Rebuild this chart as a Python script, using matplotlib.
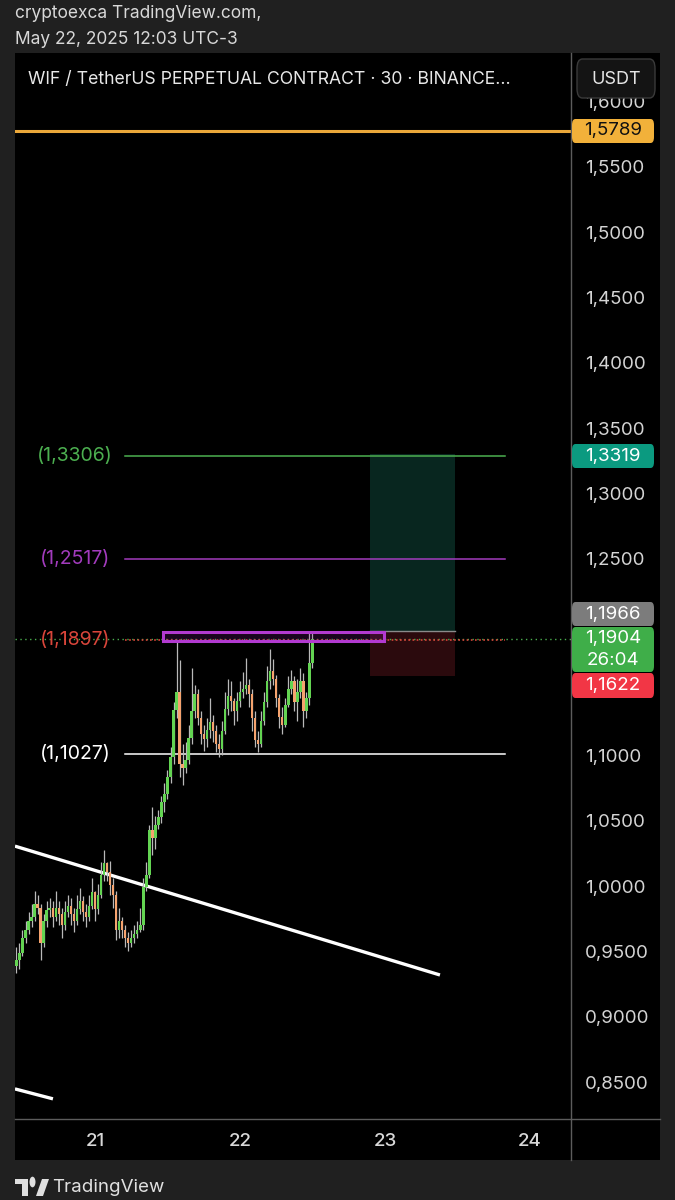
import matplotlib
matplotlib.use("Agg")
import matplotlib.pyplot as plt
from matplotlib.patches import Rectangle, FancyBboxPatch, Polygon, Circle
from matplotlib.lines import Line2D

plt.rcParams['font.family'] = ['Inter', 'DejaVu Sans']

# ---------------- data ----------------
start_day = 20.4583          # first 30-min candle (day of month)
candle_step = 1 / 48         # 30 minutes
first_open = 0.940
closes = [0.945, 0.950, 0.962, 0.968, 0.975, 0.978, 0.988, 0.985, 0.958, 0.975,
          0.983, 0.985, 0.978, 0.985, 0.980, 0.972, 0.982, 0.986, 0.980, 0.975,
          0.984, 0.990, 0.982, 0.978, 0.986, 0.997, 0.984, 0.995, 1.010, 1.019,
          1.012, 1.002, 0.995, 0.968, 0.975, 0.968, 0.962, 0.958, 0.962, 0.965,
          0.968, 0.972, 1.001, 1.010, 1.044, 1.038, 1.048, 1.054, 1.066, 1.072,
          1.085, 1.100, 1.136, 1.150, 1.095, 1.092, 1.098, 1.115, 1.135, 1.148,
          1.130, 1.118, 1.114, 1.121, 1.127, 1.120, 1.110, 1.106, 1.120, 1.137,
          1.147, 1.143, 1.135, 1.143, 1.150, 1.152, 1.155, 1.148, 1.130, 1.113,
          1.110, 1.128, 1.142, 1.158, 1.166, 1.160, 1.145, 1.131, 1.125, 1.140,
          1.152, 1.158, 1.142, 1.150, 1.158, 1.135, 1.145, 1.172, 1.1904]
highs = [0.955, 0.958, 0.968, 0.975, 0.982, 0.988, 0.998, 0.995, 0.988, 0.980,
         0.990, 0.992, 0.990, 0.998, 0.990, 0.985, 0.990, 0.995, 0.992, 0.985,
         0.995, 1.000, 0.994, 0.988, 0.995, 1.008, 0.998, 1.003, 1.020, 1.029,
         1.020, 1.021, 1.008, 0.998, 0.985, 0.978, 0.972, 0.966, 0.968, 0.972,
         0.975, 0.985, 1.008, 1.020, 1.048, 1.062, 1.055, 1.060, 1.070, 1.080,
         1.090, 1.108, 1.142, 1.188, 1.174, 1.110, 1.112, 1.125, 1.168, 1.155,
         1.152, 1.135, 1.125, 1.130, 1.145, 1.132, 1.125, 1.118, 1.128, 1.150,
         1.160, 1.158, 1.145, 1.150, 1.158, 1.165, 1.176, 1.160, 1.152, 1.135,
         1.120, 1.135, 1.150, 1.170, 1.183, 1.175, 1.163, 1.148, 1.138, 1.145,
         1.162, 1.167, 1.162, 1.160, 1.168, 1.164, 1.150, 1.1966, 1.195]
lows = [0.935, 0.938, 0.948, 0.958, 0.965, 0.970, 0.975, 0.980, 0.945, 0.955,
        0.970, 0.978, 0.970, 0.975, 0.972, 0.962, 0.968, 0.978, 0.972, 0.966,
        0.972, 0.980, 0.975, 0.970, 0.975, 0.984, 0.975, 0.980, 0.992, 1.005,
        1.005, 0.995, 0.985, 0.960, 0.962, 0.962, 0.955, 0.952, 0.955, 0.958,
        0.962, 0.966, 0.968, 0.998, 1.008, 1.025, 1.030, 1.045, 1.050, 1.058,
        1.068, 1.080, 1.095, 1.130, 1.085, 1.079, 1.088, 1.095, 1.110, 1.130,
        1.125, 1.110, 1.105, 1.108, 1.115, 1.112, 1.104, 1.100, 1.102, 1.118,
        1.132, 1.135, 1.125, 1.128, 1.138, 1.145, 1.148, 1.138, 1.120, 1.108,
        1.104, 1.108, 1.125, 1.138, 1.152, 1.155, 1.138, 1.122, 1.118, 1.123,
        1.138, 1.148, 1.135, 1.128, 1.145, 1.123, 1.130, 1.140, 1.168]

# visible price-scale labels (1,2000 and 1,1500 are hidden behind price tags)
price_ticks = [0.85, 0.90, 0.95, 1.00, 1.05, 1.10, 1.25, 1.30,
               1.35, 1.40, 1.45, 1.50, 1.55, 1.60]
day_ticks = [21, 22, 23, 24]

level_prices = [1.3306, 1.2517, 1.1897, 1.1027]
level_labels = ["(1,3306)", "(1,2517)", "(1,1897)", "(1,1027)"]
level_colors = ["#4caf50", "#a23bbd", "#d8453a", "#ffffff"]
level_start, level_end = 21.207, 23.828

resistance_price = 1.5789
last_price = 1.1904
trend1_days, trend1_prices = [20.448, 23.379], [1.032, 0.9335]
trend2_days, trend2_prices = [20.448, 20.710], [0.8464, 0.8388]
box_days, box_prices = [21.469, 22.993], [1.1888, 1.1957]
pos_days = [22.897, 23.483]
pos_target, pos_entry, pos_stop = 1.3319, 1.1966, 1.1622

# ---------------- figure ----------------
W, H = 675, 1200
fig = plt.figure(figsize=(W / 100, H / 100), dpi=100, facecolor="#202020")

def fx(px): return px / W
def fy(py): return 1 - py / H

PANEL_TOP, PLOT_BOT, PANEL_BOT = 53, 1119, 1160
LEFT, SEP, RIGHT = 15, 571, 660
YMIN = 1 - (PLOT_BOT - 888) / 1308
YMAX = 1 + (888 - PANEL_TOP) / 1308
XMIN = 21 - (95 - LEFT) / 145
XMAX = 21 + (SEP - 95) / 145

fig.add_artist(Rectangle((fx(LEFT), fy(PANEL_BOT)), fx(RIGHT) - fx(LEFT),
                         (PANEL_BOT - PANEL_TOP) / H, transform=fig.transFigure,
                         facecolor="black", edgecolor="none", zorder=0))

ax = fig.add_axes([fx(LEFT), fy(PLOT_BOT), fx(SEP) - fx(LEFT), (PLOT_BOT - PANEL_TOP) / H])
ax.set_facecolor("black")
ax.set_xlim(XMIN, XMAX)
ax.set_ylim(YMIN, YMAX)
ax.axis("off")

axr = fig.add_axes([fx(SEP), fy(PLOT_BOT), fx(RIGHT) - fx(SEP), (PLOT_BOT - PANEL_TOP) / H])
axr.set_facecolor("black")
axr.set_xlim(0, 1)
axr.set_ylim(YMIN, YMAX)
axr.axis("off")

# resistance line
ax.axhline(resistance_price, color="#eba83a", lw=2.2, zorder=3)

# position tool
ax.add_patch(Rectangle((pos_days[0], pos_entry), pos_days[1] - pos_days[0],
                       pos_target - pos_entry, facecolor="#08261f", edgecolor="none", zorder=1))
ax.add_patch(Rectangle((pos_days[0], pos_stop), pos_days[1] - pos_days[0],
                       pos_entry - pos_stop, facecolor="#2b0a0d", edgecolor="none", zorder=1))
ax.plot(pos_days, [pos_entry, pos_entry], color="#8a8a8a", lw=1, zorder=2)

# current price dotted
ax.axhline(last_price, color="#4caf50", lw=1, ls=(0, (1, 2.5)), zorder=2)

# horizontal levels
for p, lab, c in zip(level_prices, level_labels, level_colors):
    if lab == "(1,1897)":
        ax.plot([level_start, level_end], [p, p], color=c, lw=1.2, ls=(0, (1, 1.5)), zorder=2)
    else:
        ax.plot([level_start, level_end], [p, p], color=c, lw=1.1, zorder=2)
    ax.text(20.862, p, lab, color=c, fontsize=14, ha="center", va="center", zorder=4)

# trendlines
ax.plot(trend1_days, trend1_prices, color="white", lw=2.4, solid_capstyle="butt", zorder=3)
ax.plot(trend2_days, trend2_prices, color="white", lw=2.4, solid_capstyle="butt", zorder=3)

# candles
times = [start_day + i * candle_step for i in range(len(closes))]
opens = [first_open] + closes[:-1]
ax.vlines(times, lows, highs, color="#b9b9b9", lw=0.9, zorder=5)
for t, o, c in zip(times, opens, closes):
    col = "#63d452" if c >= o else "#f5a36e"
    h = max(abs(c - o), 0.0012)
    ax.bar(t, h, bottom=min(o, c), width=0.0165, color=col, edgecolor="none", zorder=6)

# purple rectangle
ax.add_patch(Rectangle((box_days[0], box_prices[0]), box_days[1] - box_days[0],
                       box_prices[1] - box_prices[0], facecolor=(0.55, 0.1, 0.65, 0.18),
                       edgecolor="#b23ad0", lw=2.2, zorder=7))

# price scale labels
for p in price_ticks:
    axr.text(0.155, p, f"{p:.4f}".replace(".", ","), color="#d4d4d4", fontsize=13.5,
             ha="left", va="center", zorder=2)

def label_box(y0, y1, color, lines, tcolor="white"):
    fig.add_artist(FancyBboxPatch((fx(572), fy(y1)), fx(654) - fx(572), (y1 - y0) / H,
                                  boxstyle="round,pad=0,rounding_size=0.005",
                                  transform=fig.transFigure, facecolor=color,
                                  edgecolor="none", zorder=10))
    n = len(lines)
    for k, s in enumerate(lines):
        yc = y0 + (y1 - y0) * (k + 0.5) / n
        fig.text(fx(613), fy(yc), s, color=tcolor, fontsize=13.5, ha="center",
                 va="center", zorder=11)

label_box(119, 143, "#f2b13a", ["1,5789"], "#111111")
label_box(444, 468, "#0b9a80", ["1,3319"])
label_box(602, 626, "#7c7c7c", ["1,1966"])
label_box(627, 672, "#3fae49", ["1,1904", "26:04"])
label_box(673, 698, "#f23645", ["1,1622"])

# USDT button
fig.add_artist(FancyBboxPatch((fx(577), fy(98)), fx(655) - fx(577), 39 / H,
                              boxstyle="round,pad=0,rounding_size=0.008",
                              transform=fig.transFigure, facecolor="#141414",
                              edgecolor="#3a3a3a", lw=1, zorder=10))
fig.text(fx(616), fy(79), "USDT", color="#e6e6e6", fontsize=13, ha="center",
         va="center", zorder=11)

# separators
fig.add_artist(Line2D([fx(SEP), fx(SEP)], [fy(PANEL_TOP), fy(PANEL_BOT)],
                      color="#5c5c5c", lw=1, transform=fig.transFigure, zorder=9))
fig.add_artist(Line2D([fx(LEFT), fx(RIGHT)], [fy(PLOT_BOT), fy(PLOT_BOT)],
                      color="#5c5c5c", lw=1, transform=fig.transFigure, zorder=9))

# date labels
for d in day_ticks:
    xpx = 95 + (d - 21) * 145
    fig.text(fx(xpx), fy(1141), str(d), color="#d8d8d8", fontsize=13.5,
             fontweight="medium", ha="center", va="center")

# header texts
fig.text(fx(15), fy(14), "cryptoexca TradingView.com,", color="#d8d8d8",
         fontsize=12.5, ha="left", va="center")
fig.text(fx(15), fy(40), "May 22, 2025 12:03 UTC-3", color="#d8d8d8",
         fontsize=12.5, ha="left", va="center")
fig.text(fx(28), fy(80), "WIF / TetherUS PERPETUAL CONTRACT · 30 · BINANCE...",
         color="#e8e8e8", fontsize=12.7, ha="left", va="center", zorder=11)

# TradingView logo
lc = "#e0e0e0"
fig.add_artist(Polygon([(fx(15), fy(1179)), (fx(28), fy(1179)), (fx(28), fy(1196)),
                        (fx(22), fy(1196)), (fx(22), fy(1184)), (fx(15), fy(1184))],
                       closed=True, transform=fig.transFigure, facecolor=lc, edgecolor="none"))
fig.add_artist(Circle((fx(32.5), fy(1182)), 3 / W, transform=fig.transFigure,
                      facecolor=lc, edgecolor="none"))
fig.add_artist(Polygon([(fx(36), fy(1196)), (fx(42), fy(1179)), (fx(49), fy(1179)),
                        (fx(43), fy(1196))], closed=True, transform=fig.transFigure,
                       facecolor=lc, edgecolor="none"))
fig.text(fx(52), fy(1187), "TradingView", color="#e0e0e0", fontsize=13.5,
         ha="left", va="center")

fig.savefig("out.png", dpi=100, facecolor=fig.get_facecolor())
